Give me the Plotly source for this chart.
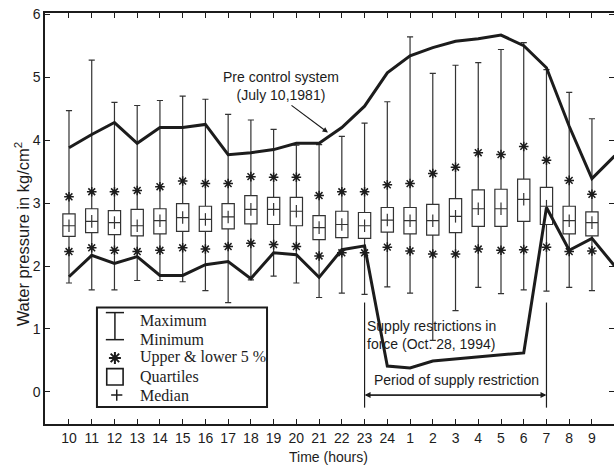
import plotly.graph_objects as go

# Hour of day for each box (10 h on one day through 9 h the next)
hours = ["10", "11", "12", "13", "14", "15", "16", "17", "18", "19", "20", "21",
         "22", "23", "24", "1", "2", "3", "4", "5", "6", "7", "8", "9"]

# Box statistics of water pressure (kg/cm2) per hour
p_min = [1.73, 1.62, 1.62, 1.77, 1.77, 1.75, 1.61, 1.42, 1.78, 1.84, 1.73, 1.50,
         1.57, 1.55, 1.67, 1.57, 0.82, 1.29, 1.66, 1.56, 1.62, 1.60, 1.66, 1.61]
p_low5 = [2.23, 2.29, 2.25, 2.23, 2.25, 2.29, 2.27, 2.31, 2.36, 2.34, 2.31, 2.16,
          2.21, 2.21, 2.30, 2.24, 2.19, 2.19, 2.27, 2.25, 2.26, 2.30, 2.23, 2.24]
p_q1 = [2.47, 2.53, 2.50, 2.48, 2.51, 2.55, 2.55, 2.59, 2.67, 2.66, 2.64, 2.42,
        2.45, 2.44, 2.54, 2.51, 2.49, 2.53, 2.63, 2.63, 2.71, 2.66, 2.51, 2.48]
p_median = [2.64, 2.71, 2.69, 2.64, 2.72, 2.77, 2.74, 2.78, 2.90, 2.90, 2.87, 2.61,
            2.66, 2.64, 2.73, 2.72, 2.72, 2.79, 2.91, 2.91, 3.06, 2.95, 2.72, 2.69]
p_q3 = [2.83, 2.91, 2.88, 2.90, 2.91, 2.99, 2.95, 2.99, 3.12, 3.09, 3.09, 2.80,
        2.87, 2.85, 2.93, 2.93, 2.98, 3.07, 3.21, 3.22, 3.38, 3.25, 2.95, 2.86]
p_up5 = [3.10, 3.18, 3.18, 3.20, 3.26, 3.35, 3.31, 3.31, 3.42, 3.41, 3.41, 3.12,
         3.18, 3.18, 3.29, 3.31, 3.47, 3.57, 3.80, 3.77, 3.90, 3.68, 3.36, 3.14]
p_max = [4.47, 5.27, 4.60, 4.55, 4.63, 4.70, 4.65, 4.41, 4.32, 4.17, 3.92, 3.93,
         4.06, 4.27, 4.61, 5.64, 5.06, 5.19, 5.23, 5.44, 5.55, 5.12, 4.76, 4.34]

# Single-day pressure records (last value = 10 h of the following day)
pre_control = [3.88, 4.09, 4.28, 3.95, 4.20, 4.20, 4.25, 3.77, 3.80, 3.85, 3.95, 3.95,
               4.20, 4.54, 5.07, 5.34, 5.47, 5.57, 5.61, 5.67, 5.50, 5.15, 4.22, 3.39, 3.75]
restricted = [1.83, 2.17, 2.04, 2.15, 1.85, 1.85, 2.02, 2.07, 1.80, 2.21, 2.18, 1.82,
              2.26, 2.32, 0.41, 0.38, 0.49, 0.52, 0.56, 0.59, 0.62, 2.93, 2.25, 2.44, 2.00]

pos = list(range(len(hours)))
line_pos = list(range(len(pre_control)))

INK = "#1c1c1c"
THIN = "#333333"
SANS = "Liberation Sans, Arial, sans-serif"
SERIF = "Liberation Serif, Times New Roman, serif"

fig = go.Figure()

fig.add_trace(go.Box(
    x=pos, q1=p_q1, median=p_median, q3=p_q3,
    lowerfence=p_min, upperfence=p_max,
    width=0.54, whiskerwidth=0.5,
    fillcolor="rgba(255,255,255,0)",
    line=dict(color=THIN, width=1.2),
    boxpoints=False, showlegend=False, hoverinfo="skip",
))

# vertical stroke of the median "+"
fig.add_trace(go.Scatter(
    x=pos, y=p_median, mode="markers", showlegend=False, hoverinfo="skip",
    marker=dict(symbol="line-ns", size=9, color=THIN, line=dict(color=THIN, width=1.2)),
))

# upper & lower 5 % markers
fig.add_trace(go.Scatter(
    x=pos + pos, y=p_up5 + p_low5, mode="markers", showlegend=False, hoverinfo="skip",
    marker=dict(symbol="asterisk-open", size=8, color=INK, line=dict(color=INK, width=1.5)),
))

for series in (pre_control, restricted):
    fig.add_trace(go.Scatter(
        x=line_pos, y=series, mode="lines", showlegend=False, hoverinfo="skip",
        line=dict(color=INK, width=3),
    ))

# legend symbols
fig.add_trace(go.Scatter(
    x=[2.02], y=[0.54], mode="markers", showlegend=False, hoverinfo="skip",
    marker=dict(symbol="asterisk-open", size=10, color=INK, line=dict(color=INK, width=2)),
))
fig.add_trace(go.Scatter(
    x=[2.1], y=[-0.05], mode="markers", showlegend=False, hoverinfo="skip",
    marker=dict(symbol="cross-thin-open", size=8, color=INK, line=dict(color=INK, width=1.5)),
))

# invisible trace so the right-hand tick axis is drawn
fig.add_trace(go.Scatter(x=[0], y=[0], yaxis="y2", mode="markers",
                         marker=dict(opacity=0), showlegend=False, hoverinfo="skip"))

shapes = [
    # legend frame
    dict(type="rect", xref="x", yref="y", x0=1.23, x1=8.71, y0=-0.24, y1=1.34,
         line=dict(color=INK, width=2), fillcolor="white", layer="below"),
    # I-beam for maximum / minimum
    dict(type="line", xref="x", yref="y", x0=2.02, x1=2.02, y0=0.83, y1=1.26,
         line=dict(color=INK, width=1.5)),
    dict(type="line", xref="x", yref="y", x0=1.62, x1=2.42, y0=1.26, y1=1.26,
         line=dict(color=INK, width=1.5)),
    dict(type="line", xref="x", yref="y", x0=1.62, x1=2.42, y0=0.83, y1=0.83,
         line=dict(color=INK, width=1.5)),
    # quartile square
    dict(type="rect", xref="x", yref="y", x0=1.66, x1=2.38, y0=0.11, y1=0.37,
         line=dict(color=INK, width=1.6)),
    # limits of the supply restriction period (23 h to 7 h)
    dict(type="line", xref="x", yref="y", x0=13, x1=13, y0=-0.25, y1=1.42,
         line=dict(color=INK, width=1.2)),
    dict(type="line", xref="x", yref="y", x0=21, x1=21, y0=-0.25, y1=1.42,
         line=dict(color=INK, width=1.2)),
]

legend_rows = [("Maximum", 1.13), ("Minimum", 0.84), ("Upper &amp; lower 5 %", 0.56),
               ("Quartiles", 0.24), ("Median", -0.05)]
annotations = [
    dict(x=3.03, y=yy, xref="x", yref="y", text=t, showarrow=False, xanchor="left",
         yanchor="middle", font=dict(family=SERIF, size=16, color=INK))
    for t, yy in legend_rows
]
annotations += [
    dict(x=9.32, y=4.86, xref="x", yref="y", text="Pre control system<br>(July 10,1981)",
         showarrow=False, font=dict(family=SANS, size=14, color=INK)),
    dict(x=11.39, y=4.12, ax=9.72, ay=4.57, xref="x", yref="y", axref="x", ayref="y",
         text="", showarrow=True, arrowhead=2, arrowsize=0.9, arrowwidth=1.2, arrowcolor=INK),
    dict(x=13.03, y=0.905, xref="x", yref="y", text="Supply restrictions in<br>force (Oct. 28, 1994)",
         showarrow=False, xanchor="left", align="left", font=dict(family=SANS, size=14, color=INK)),
    dict(x=17.05, y=0.19, xref="x", yref="y", text="Period of supply restriction",
         showarrow=False, font=dict(family=SANS, size=14, color=INK)),
    dict(x=21, y=-0.05, ax=13, ay=-0.05, xref="x", yref="y", axref="x", ayref="y",
         text="", showarrow=True, arrowhead=2, arrowsize=1, arrowwidth=1.2, arrowcolor=INK),
    dict(x=13, y=-0.05, ax=21, ay=-0.05, xref="x", yref="y", axref="x", ayref="y",
         text="", showarrow=True, arrowhead=2, arrowsize=1, arrowwidth=1.2, arrowcolor=INK),
    dict(x=0.499, y=-0.08, xref="paper", yref="paper", text="Time (hours)",
         showarrow=False, yanchor="middle", font=dict(family=SANS, size=14, color=INK)),
    dict(x=-0.04, y=0.462, xref="paper", yref="paper", text="Water pressure in kg/cm<sup>2</sup>",
         showarrow=False, textangle=-90, xanchor="center", yanchor="middle",
         font=dict(family=SANS, size=16.5, color=INK)),
]

fig.update_layout(
    width=614, height=465,
    margin=dict(l=45, r=0, t=13, b=41),
    paper_bgcolor="white", plot_bgcolor="white",
    showlegend=False,
    shapes=shapes, annotations=annotations,
    xaxis=dict(
        range=[-1.055, 23.97], tickmode="array", tickvals=pos, ticktext=hours,
        ticks="inside", ticklen=5, tickwidth=1.2, tickcolor=INK,
        showline=True, linecolor=INK, linewidth=1.5, mirror="ticks",
        showgrid=False, zeroline=False,
        tickfont=dict(family=SANS, size=14, color=INK),
    ),
    yaxis=dict(
        range=[-0.51, 6.02], tickmode="array", tickvals=[0, 1, 2, 3, 4, 5, 6],
        ticks="inside", ticklen=5, tickwidth=1.2, tickcolor=INK,
        showline=True, linecolor=INK, linewidth=1.5,
        showgrid=False, zeroline=False,
        tickfont=dict(family=SANS, size=14, color=INK),
    ),
    yaxis2=dict(
        range=[-0.51, 6.02], overlaying="y", side="right", tickmode="array",
        tickvals=[0, 1, 2, 3, 4, 5, 6], ticks="inside", ticklen=5, tickwidth=1.2,
        tickcolor=INK, showline=False, showticklabels=False, showgrid=False, zeroline=False,
    ),
)

fig.write_html("out.html")
